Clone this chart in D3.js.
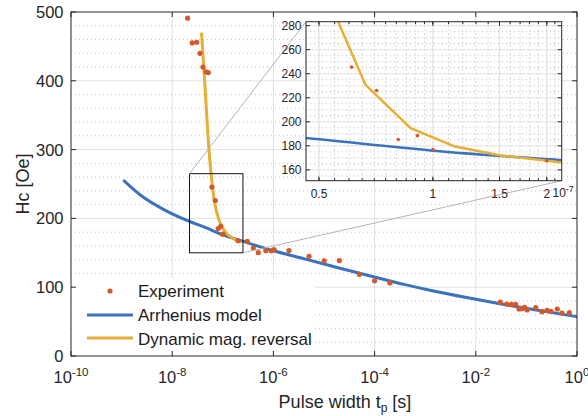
<!DOCTYPE html>
<html><head><meta charset="utf-8">
<script src="https://cdn.jsdelivr.net/npm/d3@7"></script>
<style>body{margin:0;background:#fff}svg{display:block;font-family:"Liberation Sans",Arial,sans-serif}</style>
</head><body><svg id="c" width="588" height="416"></svg>
<script>
// ---------- data ----------
const expT  = [2.02e-8,2.49e-8,3.05e-8,3.54e-8,4.06e-8,4.66e-8,5.17e-8,6.1e-8,7.1e-8,8.1e-8,9.1e-8,1.0e-7,2.0e-7,3.05e-7,4.03e-7,5.03e-7,7.1e-7,9.1e-7,1.03e-6,2.03e-6,5.06e-6,1.01e-5,2.01e-5,5.0e-5,1.0e-4,2.01e-4,0.0305,0.0407,0.0504,0.0614,0.0715,0.0818,0.0925,0.1028,0.153,0.203,0.255,0.306,0.408,0.506,0.705];
const expHc = [491,455,456,440,420,413,412,245.5,226,185.3,188.5,177,167.5,166.5,156.8,150.2,153,152.8,154.7,153.3,144.9,138.3,138.7,118.7,109.2,106.2,78.5,75.6,75.1,75.1,68.3,68.8,70.8,66.9,70.2,64.4,66.4,65,68.3,62.5,63];
const arrT  = [1.08e-9,2.7e-9,6.7e-9,2.25e-8,4.6e-8,1e-7,2.2e-7,1e-6,4.5e-6,2.07e-5,9.4e-5,4e-4,1.45e-3,6.6e-3,0.03,0.137,1];
const arrHc = [255.8,230.7,213.2,195.2,186.5,176,168,153,140.5,127.5,115.3,103.7,94.5,84.9,76.0,67.6,57.2];
const dynT  = [3.8e-8,4.38e-8,5.33e-8,6.63e-8,8.73e-8,1.144e-7,1.514e-7,2.3e-7];
const dynHc = [470,400,300,231,194.7,179.4,172,165.5];
const xTicks = [1e-10,1e-8,1e-6,1e-4,1e-2,1];
const xTickExp = ["-10","-8","-6","-4","-2","0"];
const yTicks = [0,100,200,300,400,500];
const insetXTicks = [0.5e-7,1e-7,1.5e-7,2e-7];
const insetXLabels = ["0.5","1","1.5","2"];
const insetYTicks = [160,180,200,220,240,260,280];
const zoomBox = {t0:2.2e-8,t1:2.5e-7,h0:150,h1:265};
const legendLabels = ["Experiment","Arrhenius model","Dynamic mag. reversal"];

const C_EXP="#d4592a", C_ARR="#3b72bf", C_DYN="#e5b035", AX="#262626";
const svg = d3.select("#c");
const x = d3.scaleLog().domain([1e-10,1]).range([71,577]);
const y = d3.scaleLinear().domain([0,500]).range([356,12]);
const [L,R] = x.range(), [B,T] = y.range();

// clip
const defs = svg.append("defs");
defs.append("clipPath").attr("id","mainclip").append("rect").attr("x",L).attr("y",T).attr("width",R-L).attr("height",B-T);

// grid
const g = svg.append("g");
d3.range(20,500,20).filter(v=>v%100!==0).forEach(v=>{
  g.append("line").attr("x1",L).attr("x2",R).attr("y1",y(v)).attr("y2",y(v))
   .attr("stroke","#c4c4c4").attr("stroke-dasharray","1,3");
});
yTicks.slice(1,-1).forEach(v=>{
  g.append("line").attr("x1",L).attr("x2",R).attr("y1",y(v)).attr("y2",y(v)).attr("stroke","#e0e0e0");
});
xTicks.slice(1,-1).forEach(v=>{
  g.append("line").attr("x1",x(v)).attr("x2",x(v)).attr("y1",T).attr("y2",B).attr("stroke","#e0e0e0");
});

// lines
const pts = (ts,hs)=>ts.map((t,i)=>[t,hs[i]]);
const lineMain = d3.line().x(d=>x(d[0])).y(d=>y(d[1])).curve(d3.curveMonotoneX);
const plot = svg.append("g").attr("clip-path","url(#mainclip)");
plot.append("path").attr("d",lineMain(pts(arrT,arrHc))).attr("fill","none").attr("stroke",C_ARR).attr("stroke-width",3);
plot.append("path").attr("d",lineMain(pts(dynT,dynHc))).attr("fill","none").attr("stroke",C_DYN).attr("stroke-width",3);
plot.selectAll("circle.e").data(pts(expT,expHc)).join("circle").attr("cx",d=>x(d[0])).attr("cy",d=>y(d[1])).attr("r",2.6).attr("fill",C_EXP);

// legend background
svg.append("rect").attr("x",L+1).attr("y",278).attr("width",243).attr("height",B-278-0.5).attr("fill","#fff");
const lg = svg.append("g").attr("font-size",17).attr("fill","#1a1a1a");
lg.append("circle").attr("cx",110).attr("cy",291).attr("r",2.6).attr("fill",C_EXP);
lg.append("line").attr("x1",87).attr("x2",133).attr("y1",315).attr("y2",315).attr("stroke",C_ARR).attr("stroke-width",3);
lg.append("line").attr("x1",87).attr("x2",133).attr("y1",338).attr("y2",338).attr("stroke",C_DYN).attr("stroke-width",3);
legendLabels.forEach((s,i)=>lg.append("text").attr("x",138).attr("y",297.3+i*23.7).text(s));

// axes box and ticks
const ax = svg.append("g").attr("stroke",AX).attr("fill","none");
ax.append("rect").attr("x",L).attr("y",T).attr("width",R-L).attr("height",B-T).attr("stroke-width",1);
xTicks.forEach(v=>{
  ax.append("line").attr("x1",x(v)).attr("x2",x(v)).attr("y1",B).attr("y2",B-5);
  ax.append("line").attr("x1",x(v)).attr("x2",x(v)).attr("y1",T).attr("y2",T+5);
});
yTicks.forEach(v=>{
  ax.append("line").attr("x1",L).attr("x2",L+5).attr("y1",y(v)).attr("y2",y(v));
  ax.append("line").attr("x1",R).attr("x2",R-5).attr("y1",y(v)).attr("y2",y(v));
});
const tl = svg.append("g").attr("fill","#262626").attr("font-size",16.5);
xTicks.forEach((v,i)=>{
  const t = tl.append("text").attr("x",x(v)).attr("y",382.5).attr("text-anchor","middle");
  t.append("tspan").text("10");
  t.append("tspan").attr("dy",-7).attr("font-size",11.5).text(xTickExp[i]);
});
yTicks.forEach(v=>{
  tl.append("text").attr("x",63.5).attr("y",y(v)).attr("dy","0.36em").attr("text-anchor","end").text(v);
});
const xl = tl.append("text").attr("x",345).attr("y",407.5).attr("text-anchor","middle").attr("font-size",18);
xl.append("tspan").text("Pulse width t");
xl.append("tspan").attr("dy",4).attr("font-size",12).text("p");
xl.append("tspan").attr("dy",-4).text(" [s]");
tl.append("text").attr("transform","translate(29,184) rotate(-90)").attr("text-anchor","middle").attr("font-size",18).text("Hc [Oe]");

// zoom box
const ix = d3.scaleLog().domain([0.462e-7,2.19e-7]).range([306,561.7]);
const iy = d3.scaleLinear().domain([151,283.3]).range([180.7,21.7]);
const [iL,iR] = ix.range(), [iB,iT] = iy.range();
svg.append("rect").attr("x",x(zoomBox.t0)).attr("y",y(zoomBox.h1)).attr("width",x(zoomBox.t1)-x(zoomBox.t0)).attr("height",y(zoomBox.h0)-y(zoomBox.h1))
  .attr("fill","none").attr("stroke","#111").attr("stroke-width",1);
svg.append("line").attr("x1",x(zoomBox.t0)).attr("y1",y(zoomBox.h1)).attr("x2",iL).attr("y2",iT).attr("stroke","#b4b4b4");
svg.append("line").attr("x1",x(zoomBox.t1)).attr("y1",y(zoomBox.h0)).attr("x2",iR).attr("y2",iB).attr("stroke","#b4b4b4");

// inset
defs.append("clipPath").attr("id","insclip").append("rect").attr("x",iL).attr("y",iT).attr("width",iR-iL).attr("height",iB-iT);
const ins = svg.append("g");
ins.append("rect").attr("x",iL).attr("y",iT).attr("width",iR-iL).attr("height",iB-iT).attr("fill","#fff");
const minorX = d3.range(0.5,1.0001,0.05).concat(d3.range(1.1,2.2,0.1)).map(v=>v*1e-7);
minorX.forEach(v=>{
  ins.append("line").attr("x1",ix(v)).attr("x2",ix(v)).attr("y1",iT).attr("y2",iB).attr("stroke","#bdbdbd").attr("stroke-dasharray","1,3");
});
d3.range(155,284,5).filter(v=>v%20!==0).forEach(v=>{
  ins.append("line").attr("x1",iL).attr("x2",iR).attr("y1",iy(v)).attr("y2",iy(v)).attr("stroke","#bdbdbd").attr("stroke-dasharray","1,3");
});
insetYTicks.forEach(v=>{
  ins.append("line").attr("x1",iL).attr("x2",iR).attr("y1",iy(v)).attr("y2",iy(v)).attr("stroke","#e0e0e0");
});
insetXTicks.forEach(v=>{
  ins.append("line").attr("x1",ix(v)).attr("x2",ix(v)).attr("y1",iT).attr("y2",iB).attr("stroke","#e0e0e0");
});
const lineIns = d3.line().x(d=>ix(d[0])).y(d=>iy(d[1]));
const ip = ins.append("g").attr("clip-path","url(#insclip)");
ip.append("path").attr("d",lineIns.curve(d3.curveMonotoneX)(pts(arrT,arrHc))).attr("fill","none").attr("stroke",C_ARR).attr("stroke-width",2.5);
ip.append("path").attr("d",d3.line().x(d=>ix(d[0])).y(d=>iy(d[1]))(pts(dynT,dynHc))).attr("fill","none").attr("stroke",C_DYN).attr("stroke-width",2.5);
ip.selectAll("circle").data(pts(expT,expHc)).join("circle").attr("cx",d=>ix(d[0])).attr("cy",d=>iy(d[1])).attr("r",1.8).attr("fill",C_EXP);
const iax = ins.append("g").attr("stroke",AX).attr("fill","none");
iax.append("rect").attr("x",iL).attr("y",iT).attr("width",iR-iL).attr("height",iB-iT);
minorX.forEach(v=>{
  iax.append("line").attr("x1",ix(v)).attr("x2",ix(v)).attr("y1",iB).attr("y2",iB-2.5);
  iax.append("line").attr("x1",ix(v)).attr("x2",ix(v)).attr("y1",iT).attr("y2",iT+2.5);
});
insetXTicks.forEach(v=>{
  iax.append("line").attr("x1",ix(v)).attr("x2",ix(v)).attr("y1",iB).attr("y2",iB-4);
  iax.append("line").attr("x1",ix(v)).attr("x2",ix(v)).attr("y1",iT).attr("y2",iT+4);
});
insetYTicks.forEach(v=>{
  iax.append("line").attr("x1",iL).attr("x2",iL+4).attr("y1",iy(v)).attr("y2",iy(v));
  iax.append("line").attr("x1",iR).attr("x2",iR-4).attr("y1",iy(v)).attr("y2",iy(v));
});
const itl = ins.append("g").attr("fill","#262626").attr("font-size",12);
insetYTicks.forEach(v=>{
  itl.append("text").attr("x",301.5).attr("y",iy(v)).attr("dy","0.36em").attr("text-anchor","end").text(v);
});
insetXTicks.forEach((v,i)=>{
  itl.append("text").attr("x",ix(v)).attr("y",197.5).attr("text-anchor","middle").text(insetXLabels[i]);
});
const ex = itl.append("text").attr("x",552.5).attr("y",197).attr("text-anchor","start");
ex.append("tspan").text("10");
ex.append("tspan").attr("dy",-5).attr("font-size",9).text("-7");
</script></body></html>
